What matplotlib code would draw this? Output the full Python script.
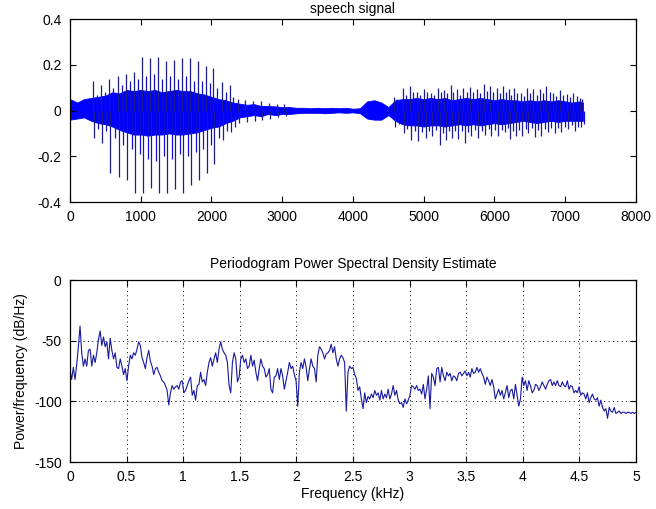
import numpy as np
import matplotlib
matplotlib.use("Agg")
import matplotlib.pyplot as plt

plt.rcParams['font.family'] = ['Liberation Sans', 'DejaVu Sans']
plt.rcParams['font.size'] = 10

# speech waveform: envelope of the dense part, sampled every 100 samples
band_t = [0, 100, 200, 300, 400, 500, 600, 700, 800, 900, 1000, 1100, 1200,
          1300, 1400, 1500, 1600, 1700, 1800, 1900, 2000, 2100, 2200, 2300,
          2400, 2500, 2600, 2700, 2800, 2900, 3000, 3100, 3200, 3300, 3400,
          3500, 3600, 3700, 3800, 3900, 4000, 4100, 4200, 4300, 4400, 4500,
          4600, 4700, 4800, 4900, 5000, 5100, 5200, 5300, 5400, 5500, 5600,
          5700, 5800, 5900, 6000, 6100, 6200, 6300, 6400, 6500, 6600, 6700,
          6800, 6900, 7000, 7100, 7200, 7250]
band_hi = [0.05, 0.035, 0.05, 0.055, 0.06, 0.065, 0.08, 0.075, 0.09, 0.085,
           0.09, 0.085, 0.09, 0.08, 0.085, 0.09, 0.085, 0.085, 0.075, 0.07,
           0.06, 0.05, 0.045, 0.035, 0.03, 0.025, 0.028, 0.02, 0.02, 0.018,
           0.015, 0.015, 0.012, 0.012, 0.01, 0.012, 0.01, 0.012, 0.01, 0.012,
           0.008, 0.01, 0.04, 0.045, 0.035, 0.015, 0.045, 0.05, 0.05, 0.055,
           0.05, 0.055, 0.05, 0.055, 0.045, 0.05, 0.055, 0.05, 0.055, 0.05,
           0.045, 0.05, 0.045, 0.045, 0.04, 0.045, 0.04, 0.045, 0.04, 0.045,
           0.04, 0.035, 0.04, 0.035]
band_lo = [-0.04, -0.035, -0.03, -0.045, -0.055, -0.06, -0.07, -0.085,
           -0.095, -0.105, -0.105, -0.11, -0.105, -0.105, -0.10, -0.105,
           -0.105, -0.10, -0.095, -0.085, -0.075, -0.07, -0.055, -0.045,
           -0.03, -0.025, -0.02, -0.025, -0.015, -0.02, -0.015, -0.015,
           -0.012, -0.01, -0.01, -0.01, -0.012, -0.01, -0.008, -0.01, -0.008,
           -0.012, -0.035, -0.04, -0.04, -0.02, -0.045, -0.06, -0.065, -0.065,
           -0.07, -0.065, -0.065, -0.07, -0.065, -0.06, -0.065, -0.06, -0.065,
           -0.06, -0.055, -0.06, -0.055, -0.05, -0.045, -0.05, -0.055, -0.05,
           -0.045, -0.05, -0.045, -0.045, -0.045, -0.045]

# glottal pulses (sample index, positive peak, negative peak)
pulse_t = [325, 438, 551, 678, 792, 905, 1018, 1131, 1244, 1357, 1470, 1583,
           1696, 1809, 1922, 2021, 2148, 2261, 2370, 2480, 2590, 2700, 2810,
           2920, 3030,
           4578, 4701, 4805, 4903, 5007, 5101, 5205, 5290, 5379, 5464, 5558,
           5652, 5746, 5850, 5935, 6029, 6123, 6203, 6279, 6373, 6458, 6547,
           6641, 6735, 6830, 6924, 7018, 7112, 7206]
pulse_hi = [0.13, 0.11, 0.14, 0.15, 0.16, 0.17, 0.235, 0.23, 0.235, 0.215,
            0.22, 0.23, 0.23, 0.215, 0.195, 0.185, 0.125, 0.11, 0.05, 0.045,
            0.04, 0.04, 0.035, 0.03, 0.03,
            0.061, 0.10, 0.106, 0.082, 0.096, 0.075, 0.10, 0.089, 0.11,
            0.092, 0.10, 0.104, 0.092, 0.118, 0.106, 0.10, 0.106, 0.092,
            0.10, 0.078, 0.10, 0.092, 0.096, 0.106, 0.078, 0.089, 0.072,
            0.078, 0.054]
pulse_lo = [-0.12, -0.14, -0.275, -0.29, -0.305, -0.36, -0.36, -0.34, -0.36,
            -0.36, -0.345, -0.36, -0.325, -0.305, -0.275, -0.235, -0.13,
            -0.095, -0.055, -0.05, -0.045, -0.04, -0.035, -0.03, -0.025,
            -0.07, -0.10, -0.13, -0.135, -0.12, -0.11, -0.15, -0.13, -0.12,
            -0.125, -0.14, -0.11, -0.12, -0.105, -0.11, -0.11, -0.095, -0.125,
            -0.11, -0.11, -0.10, -0.115, -0.11, -0.095, -0.10, -0.095, -0.08,
            -0.09, -0.07]

# weaker peaks inside each pitch period
sec_t = [375, 490, 605, 730, 845, 958, 1072, 1185, 1298, 1410, 1523, 1637,
         1750, 1862, 1972, 2080, 2200, 2310,
         4625, 4745, 4850, 4950, 5050, 5150, 5245, 5335, 5420, 5510, 5605,
         5700, 5795, 5895, 5980, 6075, 6165, 6240, 6325, 6415, 6500, 6595,
         6690, 6780, 6875, 6970, 7065, 7160, 7240]
sec_hi = [0.07, 0.08, 0.10, 0.11, 0.13, 0.14, 0.15, 0.16, 0.14, 0.15, 0.14,
          0.15, 0.13, 0.13, 0.12, 0.10, 0.08, 0.06,
          0.05, 0.07, 0.08, 0.07, 0.08, 0.07, 0.08, 0.075, 0.08, 0.07, 0.08,
          0.08, 0.075, 0.085, 0.08, 0.075, 0.08, 0.07, 0.075, 0.065, 0.075,
          0.07, 0.075, 0.08, 0.065, 0.07, 0.06, 0.065, 0.05]
sec_lo = [-0.08, -0.09, -0.12, -0.15, -0.17, -0.19, -0.21, -0.22, -0.20,
          -0.21, -0.19, -0.20, -0.18, -0.17, -0.15, -0.12, -0.09, -0.07,
          -0.06, -0.08, -0.09, -0.095, -0.09, -0.085, -0.10, -0.09, -0.09,
          -0.09, -0.095, -0.085, -0.09, -0.08, -0.085, -0.085, -0.075, -0.09,
          -0.085, -0.08, -0.075, -0.085, -0.08, -0.075, -0.075, -0.07, -0.065,
          -0.07, -0.06]

# periodogram (dB/Hz), evenly spaced from 0 to 5 kHz
psd_db = [
    -74, -82, -72, -82, -70, -55, -38, -60, -71, -65, -71, -58, -57, -71, -62,
    -68, -60, -49, -42, -54, -47, -55, -51, -65, -48, -58, -65, -60, -72, -73,
    -65, -71, -78, -73, -83, -71, -62, -65, -60, -62, -57, -51, -54, -64, -68,
    -73, -64, -58, -67, -71, -78, -73, -72, -76, -79, -83, -84, -87, -91, -103,
    -93, -87, -90, -88, -87, -90, -84, -83, -93, -91, -87, -83, -80, -95, -91,
    -99, -87, -86, -76, -84, -82, -87, -76, -68, -64, -71, -65, -60, -68, -57,
    -51, -57, -60, -62, -68, -87, -93, -68, -60, -65, -84, -80, -65, -62, -68,
    -65, -73, -71, -62, -71, -66, -76, -83, -73, -65, -71, -73, -80, -78, -73,
    -90, -93, -80, -79, -73, -82, -73, -79, -90, -83, -76, -68, -73, -71, -78,
    -83, -104, -76, -68, -73, -65, -72, -83, -73, -65, -71, -73, -84, -62, -55,
    -57, -60, -65, -61, -60, -58, -53, -60, -55, -65, -71, -65, -62, -64, -68,
    -108, -76, -71, -73, -72, -78, -81,
    -91, -88, -98, -106, -93, -101, -96, -98, -94, -97, -91, -95, -93, -99,
    -91, -98, -94, -97, -90, -98, -94, -87, -95, -91, -99, -102, -101, -105,
    -98, -102, -99, -95, -87, -88, -90, -87, -91, -90, -94, -86, -98, -90,
    -79, -106, -77, -80, -87, -73, -72, -84, -72, -79, -83, -76, -79, -77,
    -83, -79, -80, -83, -77, -76, -79, -77, -75, -79, -76, -80, -73, -77,
    -76, -72, -76, -73, -77, -80, -86, -80, -83, -87, -82, -88, -98, -94,
    -90, -95, -91, -98, -93, -87, -97, -91, -90, -98, -86, -95, -104, -98,
    -80, -87, -83, -91, -83, -87, -93, -91, -86, -87, -91, -88, -84, -87,
    -90, -86, -83, -82, -87, -84, -87, -83, -87, -88, -84, -87, -88, -83,
    -90, -87, -88, -93, -91, -93, -88, -95, -93, -94, -98, -93, -101, -97,
    -94, -98, -99, -97, -104, -99, -105, -108, -106, -114, -105, -108, -109,
    -105, -110, -109, -108, -110, -109, -109, -110, -109, -109, -110, -109,
    -110, -109]
psd_khz = np.linspace(0, 5, len(psd_db))

top_xticks = [0, 1000, 2000, 3000, 4000, 5000, 6000, 7000, 8000]
top_yticks = [-0.4, -0.2, 0, 0.2, 0.4]
top_ylabels = ['-0.4', '-0.2', '0', '0.2', '0.4']
bot_xticks = [0, 0.5, 1, 1.5, 2, 2.5, 3, 3.5, 4, 4.5, 5]
bot_xlabels = ['0', '0.5', '1', '1.5', '2', '2.5', '3', '3.5', '4', '4.5', '5']
bot_yticks = [-150, -100, -50, 0]
bot_ylabels = ['-150', '-100', '-50', '0']


def matlab_axes(ax):
    for s in ax.spines.values():
        s.set_linewidth(0.9)
    ax.tick_params(direction='in', length=4.5, width=0.8, top=True,
                   right=True, pad=6, labelsize=10)


fig = plt.figure(figsize=(6.56, 5.09), dpi=100)

ax1 = fig.add_axes([0.1067, 0.6031, 0.8628, 0.3595])
ax1.fill_between(band_t, band_lo, band_hi, color='#0000ff', lw=0.6,
                 edgecolor='#0000ff')
pt = np.array(pulse_t)
st = np.array(sec_t)
ax1.vlines(st, 0, sec_hi, color='#1010c8', lw=0.9)
ax1.vlines(st + 25, sec_lo, 0, color='#1010c8', lw=0.9)
ax1.vlines(pt, 0, pulse_hi, color='#1c1c8c', lw=0.9)
ax1.vlines(pt + 20, pulse_lo, 0, color='#1c1c8c', lw=0.9)
ax1.set_xlim(0, 8000)
ax1.set_ylim(-0.4, 0.4)
ax1.set_xticks(top_xticks)
ax1.set_xticklabels([str(v) for v in top_xticks])
ax1.set_yticks(top_yticks)
ax1.set_yticklabels(top_ylabels)
ax1.set_title('speech signal', fontsize=10, pad=4)
matlab_axes(ax1)

ax2 = fig.add_axes([0.1067, 0.0923, 0.8628, 0.3576])
ax2.plot(psd_khz, psd_db, color='#1818a0', lw=0.8)
ax2.set_xlim(0, 5)
ax2.set_ylim(-150, 0)
ax2.set_xticks(bot_xticks)
ax2.set_xticklabels(bot_xlabels)
ax2.set_yticks(bot_yticks)
ax2.set_yticklabels(bot_ylabels)
ax2.grid(True, color='black', linestyle=(0, (1, 3.5)), linewidth=0.7)
ax2.set_title('Periodogram Power Spectral Density Estimate', fontsize=10,
              pad=9)
ax2.set_xlabel('Frequency (kHz)', fontsize=10, labelpad=2)
ax2.set_ylabel('Power/frequency (dB/Hz)', fontsize=10, labelpad=4)
matlab_axes(ax2)

fig.savefig('out.png', dpi=100)
